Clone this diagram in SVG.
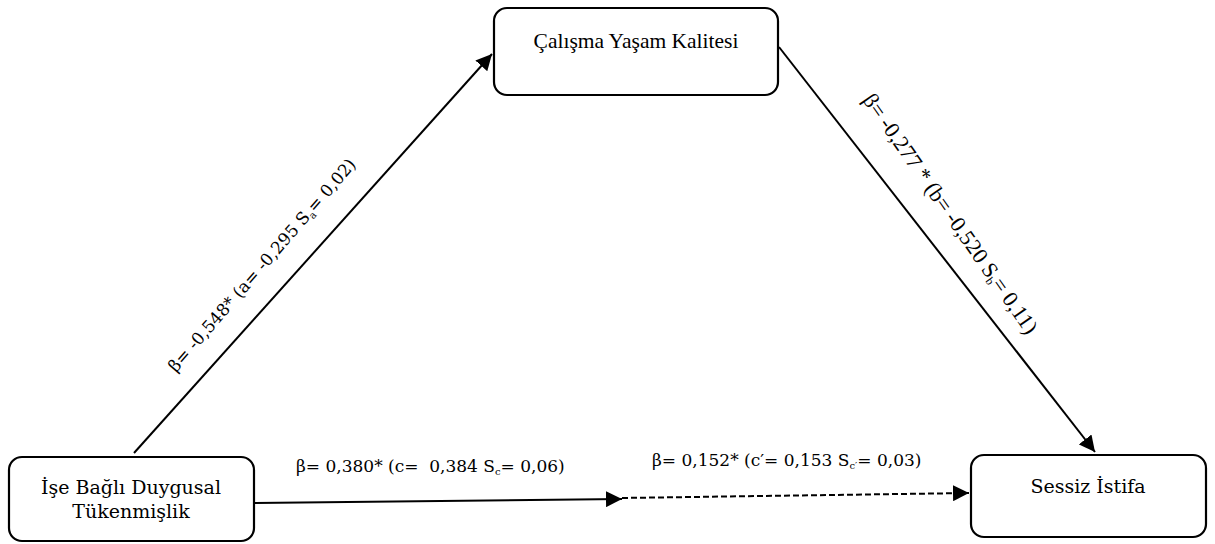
<svg xmlns="http://www.w3.org/2000/svg" width="1215" height="544" viewBox="0 0 1215 544">
<style>
.box{fill:#fff;stroke:#000;stroke-width:2.2}
.t{font-family:"Liberation Serif","Times New Roman",serif;fill:#000}
.p{font-family:"DejaVu Serif","Liberation Serif",serif;fill:#000}
.c{stroke:#000;stroke-width:2;fill:none}
.d{stroke:#000;stroke-width:2;fill:none;stroke-dasharray:6 3}
</style>
<defs>
<marker id="ahb" viewBox="0 0 10 10" refX="10" refY="5" markerWidth="16" markerHeight="16" markerUnits="userSpaceOnUse" orient="auto">
<path d="M0,0 L10,5 L0,10 z" fill="#000"/>
</marker>
</defs>
<g id="connectors">
<line class="c" x1="134" y1="453" x2="492" y2="54" marker-end="url(#ahb)"/>
<line class="c" x1="779" y1="47" x2="1095" y2="452" marker-end="url(#ahb)"/>
<line class="c" x1="255" y1="503" x2="622" y2="499" marker-end="url(#ahb)"/>
<line class="d" x1="622" y1="498" x2="969" y2="493" marker-end="url(#ahb)"/>
<text class="p" font-size="17" transform="translate(176,373) rotate(-49)">β= -0,548* (a= -0,295 S<tspan font-size="10" dy="3">a</tspan><tspan dy="-3">= 0,02)</tspan></text>
<text class="t" font-size="22" transform="translate(862,100) rotate(55)">β= -0,277 * (b= -0,520 S<tspan font-size="12" dy="3">b</tspan><tspan dy="-3">= 0,11)</tspan></text>
<text class="p" font-size="17" x="296" y="472" xml:space="preserve">β= 0,380* (c=  0,384 S<tspan font-size="10" dy="3">c</tspan><tspan dy="-3">= 0,06)</tspan></text>
<text class="p" font-size="17" x="652" y="466">β= 0,152* (c′= 0,153 S<tspan font-size="10" dy="3">c′</tspan><tspan dy="-3">= 0,03)</tspan></text>
</g>
<g id="node-calisma">
<rect class="box" x="494" y="8" width="284" height="87" rx="13"/>
<text class="t" font-size="21.5" x="636" y="48" text-anchor="middle">Çalışma Yaşam Kalitesi</text>
</g>
<g id="node-ise">
<rect class="box" x="9" y="457" width="245" height="84" rx="13"/>
<text class="p" font-size="19" x="131" y="494" text-anchor="middle">İşe Bağlı Duygusal</text>
<text class="p" font-size="19" x="131" y="518" text-anchor="middle">Tükenmişlik</text>
</g>
<g id="node-sessiz">
<rect class="box" x="971" y="455" width="235" height="82" rx="13"/>
<text class="p" font-size="19" x="1088" y="493" text-anchor="middle">Sessiz İstifa</text>
</g>
</svg>
